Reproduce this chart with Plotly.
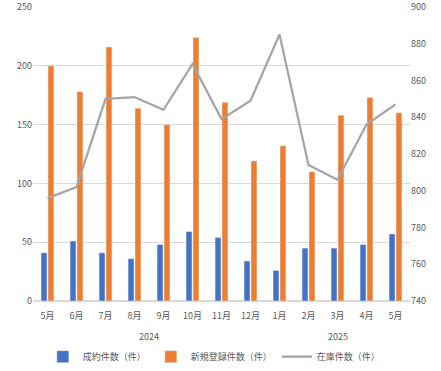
import plotly.graph_objects as go

years = ["2024"] * 8 + ["2025"] * 5
months = ["5月", "6月", "7月", "8月", "9月", "10月", "11月", "12月", "1月", "2月", "3月", "4月", "5月"]
contracts = [41, 51, 41, 36, 48, 59, 54, 34, 26, 45, 45, 48, 57]
new_listings = [200, 178, 216, 164, 150, 224, 169, 119, 132, 110, 158, 173, 160]
inventory = [796, 802, 850, 851, 844, 869, 839, 849, 885, 814, 806, 836, 847]

idx = list(range(len(months)))
font = "Noto Sans CJK JP, sans-serif"
grey = "#595959"

fig = go.Figure()
fig.add_trace(go.Bar(x=idx, y=contracts, name="成約件数（件）", marker_color="#4472c4"))
fig.add_trace(go.Bar(x=idx, y=new_listings, name="新規登録件数（件）", marker_color="#ed7d31"))
fig.add_trace(go.Scatter(x=idx, y=inventory, name="在庫件数（件）", mode="lines",
                         line=dict(color="#a5a5a5", width=2.25), yaxis="y2"))

# year group labels centred under their months
annotations = []
for yr in dict.fromkeys(years):
    pos = [i for i, v in enumerate(years) if v == yr]
    annotations.append(dict(x=(pos[0] + pos[-1]) / 2, xref="x", y=-0.122, yref="paper",
                            text=yr, showarrow=False, yanchor="middle",
                            font=dict(size=9, color=grey)))

fig.update_layout(
    width=441, height=371,
    margin=dict(l=33, r=31, t=7, b=70, autoexpand=False),
    paper_bgcolor="white", plot_bgcolor="white",
    font=dict(family=font, size=9, color=grey),
    barmode="group", bargap=0.52, bargroupgap=0.15,
    showlegend=True,
    legend=dict(orientation="h", x=0.481, xanchor="center", y=-0.14, yanchor="top",
                font=dict(size=9, color=grey), itemwidth=30),
    annotations=annotations,
    xaxis=dict(range=[-0.5, len(months) - 0.5], tickvals=idx, ticktext=months,
               showgrid=False, ticks="", showline=False, zeroline=False, automargin=False,
               ticklabelstandoff=8, tickfont=dict(size=9, color=grey)),
    yaxis=dict(range=[0, 250], dtick=50, showgrid=True, gridcolor="#d9d9d9", automargin=False,
               zeroline=True, zerolinecolor="#d9d9d9", ticks="", tickfont=dict(size=9, color=grey)),
    yaxis2=dict(range=[740, 900], dtick=20, overlaying="y", side="right", showgrid=False,
                automargin=False, zeroline=False, ticks="", tickfont=dict(size=9, color=grey)),
)

fig.write_html("out.html", config={"displayModeBar": False},
               post_script="document.body.style.margin='0';")
